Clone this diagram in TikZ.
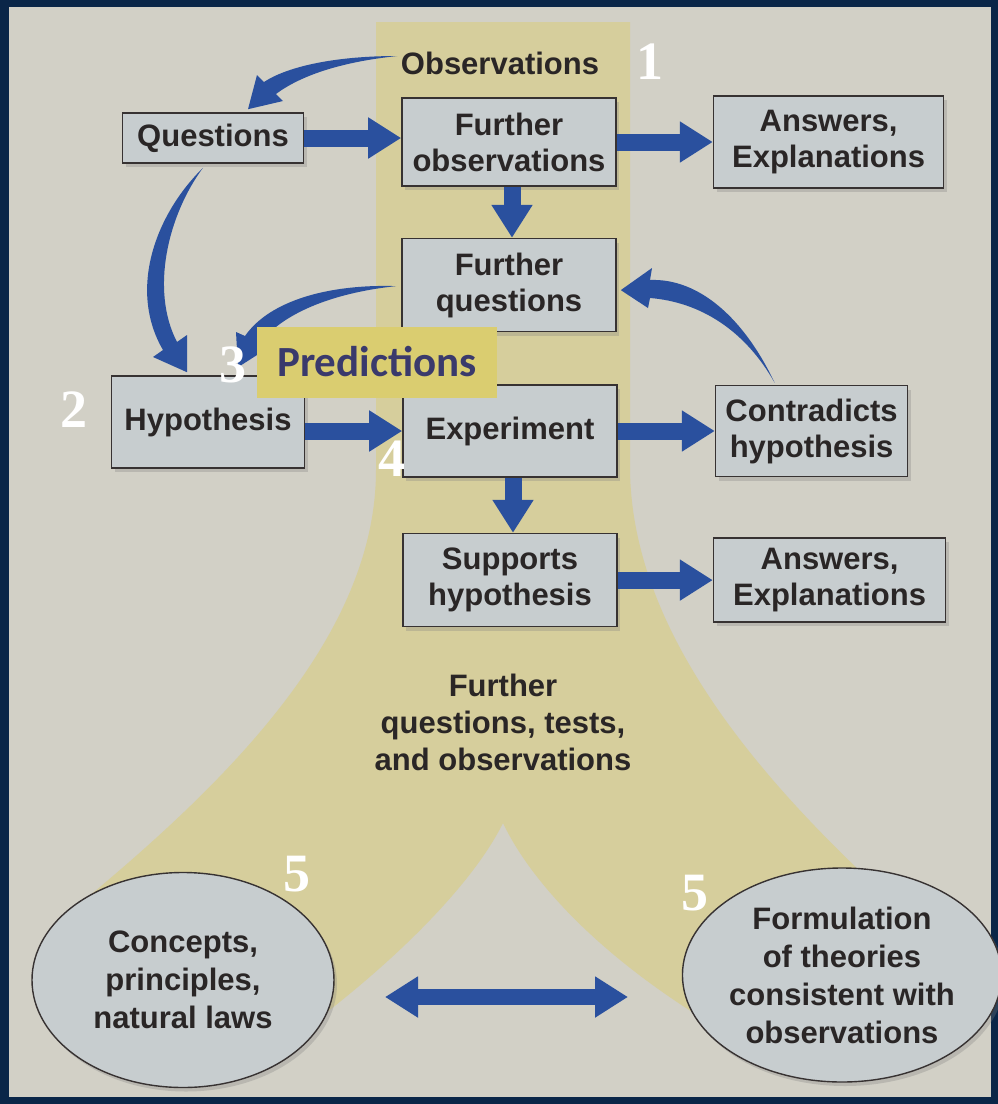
\documentclass[tikz,border=0pt]{standalone}
\usepackage{fontspec}
\setsansfont{Liberation Sans}
\newfontfamily\numfont{Liberation Serif}
\newfontfamily\predfont{Carlito}
\usepackage{tikz}
\usetikzlibrary{arrows.meta, positioning, calc, shadows, shapes.geometric}
\definecolor{frameblue}{RGB}{10,38,72}
\definecolor{paper}{RGB}{210,208,198}
\definecolor{trunk}{RGB}{214,206,156}
\definecolor{boxfill}{RGB}{199,205,207}
\definecolor{boxline}{RGB}{55,50,50}
\definecolor{inkgray}{RGB}{42,38,38}
\definecolor{arrowblue}{RGB}{42,80,158}
\definecolor{predfill}{RGB}{218,205,112}
\definecolor{predink}{RGB}{58,58,108}
\tikzset{
  boxfont/.style={font=\sffamily\bfseries\fontsize{31}{36}\selectfont, text=inkgray},
  block/.style={rectangle, draw=boxline, line width=1.6pt, fill=boxfill,
                boxfont, align=center, inner sep=0pt,
                minimum width=214pt, minimum height=92pt,
                drop shadow={shadow xshift=3pt, shadow yshift=-4pt, opacity=0.3}},
  oval/.style={ellipse, draw=boxline, line width=1.4pt, fill=boxfill,
               boxfont, font=\sffamily\bfseries\fontsize{31}{38}\selectfont,
               align=center, inner sep=0pt,
               drop shadow={shadow xshift=3pt, shadow yshift=-4pt, opacity=0.3}},
  fat/.style={-{Triangle[width=39pt,length=33pt]}, line width=17pt, draw=arrowblue},
  dblfat/.style={{Triangle[width=39pt,length=33pt]}-{Triangle[width=39pt,length=33pt]},
                 line width=16pt, draw=arrowblue},
  taper/.style={fill=arrowblue},
  numlbl/.style={font=\numfont\bfseries\fontsize{54}{54}\selectfont, text=white},
  predbox/.style={rectangle, fill=predfill, minimum width=240pt, minimum height=71pt,
                  font=\predfont\bfseries\fontsize{43}{43}\selectfont, text=predink},
}

\begin{document}
\begin{tikzpicture}[x=1pt, y=-1pt]

  \useasboundingbox (0,0) rectangle (998,1104);
  \fill[frameblue] (0,0) rectangle (998,1104);
  \fill[paper] (9,7) rectangle (991,1097);

  % yellow trunk splitting into two legs
  \fill[trunk] (376,22) -- (630,22) -- (630,470)
     .. controls (632,620) and (740,760) .. (880,890) -- (730,1035)
     .. controls (600,960) and (530,880) .. (503,823)
     .. controls (475,880) and (400,960) .. (290,1040) -- (60,920)
     .. controls (220,790) and (376,640) .. (376,470) -- cycle;

  \node[boxfont] (obs) at (500,63) {Observations};
  \node[block, minimum width=181pt, minimum height=50pt] (q) at (213,138) {Questions};
  \node[block, minimum height=88pt] (fobs) at (509,142) {Further\\observations};
  \node[block, right=96pt of fobs, minimum width=230pt] (ans1) {Answers,\\Explanations};
  \node[block, below=51pt of fobs, minimum height=93pt] (fq) {Further\\questions};
  \node[block] (exp) at (510,431) {Experiment};
  \node[block, below=55pt of exp, minimum height=93pt] (sup) {Supports\\hypothesis};
  \node[block, minimum width=193pt] (hyp) at (208,422) {Hypothesis};
  \node[block, right=97pt of exp, minimum width=192pt, minimum height=91pt] (contr) {Contradicts\\hypothesis};
  \node[block, right=95pt of sup, minimum width=232pt, minimum height=84pt] (ans2) {Answers,\\Explanations};

  \node[boxfont, align=center, font=\sffamily\bfseries\fontsize{31}{37}\selectfont] (more) at (503,722)
       {Further\\questions, tests,\\and observations};

  \node[oval, minimum width=302pt, minimum height=215pt] (laws) at (183,980)
       {Concepts,\\principles,\\natural laws};
  \node[oval, minimum width=292pt, minimum height=214pt] (theory) at (842,975)
       {Formulation\\of theories\\consistent with\\observations};

  % straight arrows
  \draw[fat] (q.east) -- (q.east -| fobs.west);
  \draw[fat] (fobs.east) -- (ans1.west);
  \draw[fat] ([xshift=3pt]fobs.south) -- ([xshift=3pt]fq.north);
  \draw[fat] (hyp.east |- exp.west) -- (exp.west);
  \draw[fat] (exp.east) -- (contr.west);
  \draw[fat] ([xshift=3pt]exp.south) -- ([xshift=3pt]sup.north);
  \draw[fat] (sup.east) -- (ans2.west);

  \coordinate (dl) at (385,997);
  \coordinate (dr) at (628,997);
  \draw[dblfat] (dl) -- (dr);

  % curved tapering arrows
  \fill[taper] ($(obs.west)+(0,-7)$) .. controls (330,56) and (285,68) .. (264,82)
     -- (257,75) -- ($(q.north)+(35,-3)$) -- (283,101) -- (276,94)
     .. controls (300,76) and (340,62) .. ($(obs.west)+(0,-7)$) -- cycle;
  \fill[taper] ($(q.south)+(-10,4)$) .. controls (155,215) and (128,290) .. (163,350)
     -- (153,357) -- ($(hyp.north)+(-21,-3)$) -- (187,335) -- (177,342)
     .. controls (150,290) and (168,215) .. ($(q.south)+(-10,4)$) -- cycle;
  \fill[taper] ($(fq.west)+(-5,1)$) .. controls (330,284) and (270,300) .. (245,336)
     -- (236,332) -- ($(hyp.north)+(30,-8)$) -- (268,348) -- (259,344)
     .. controls (285,310) and (340,292) .. ($(fq.west)+(-5,1)$) -- cycle;
  \fill[taper] ($(contr.north)+(-37,-2)$) .. controls (745,330) and (700,302) .. (650,298)
     -- (648,308) -- ($(fq.east)+(4,5)$) -- (652,268) -- (650,280)
     .. controls (700,278) and (745,320) .. ($(contr.north)+(-37,-2)$) -- cycle;

  \node[predbox] (pred) at (377,362) {Predictions};

  \node[numlbl] (n1) at (650,62) {1};
  \node[numlbl] (n2) at (74,410) {2};
  \node[numlbl] (n3) at (233,365) {3};
  \node[numlbl] (n4) at (392,459) {4};
  \node[numlbl] (n5a) at (297,874) {5};
  \node[numlbl] (n5b) at (695,893) {5};

\end{tikzpicture}
\end{document}
